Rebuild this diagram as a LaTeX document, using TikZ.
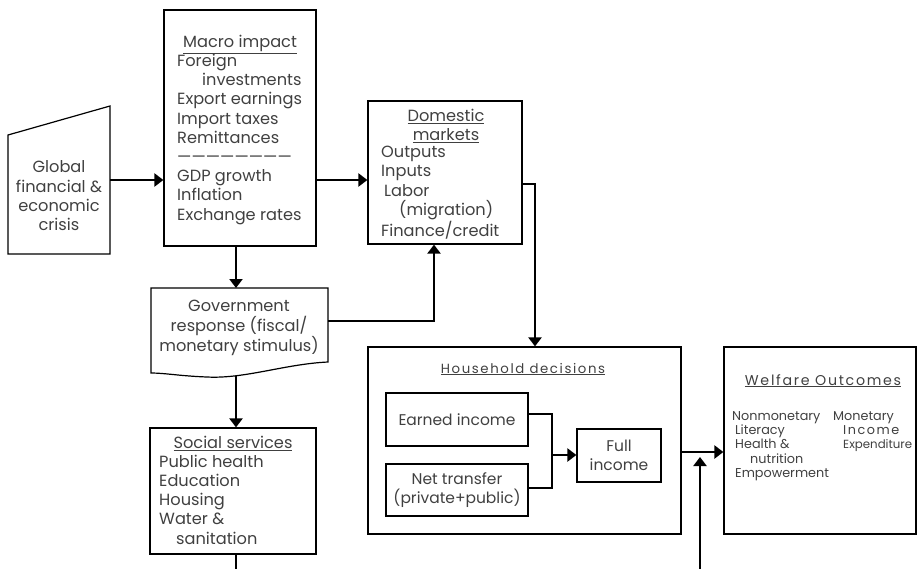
\documentclass[tikz,border=0pt]{standalone}
\usepackage{fontspec}
\setmainfont{Poppins}
\newfontfamily\widefont[LetterSpace=12]{Poppins}
\usetikzlibrary{arrows.meta}
\begin{document}
\begin{tikzpicture}[x=1pt,y=-1pt,
  box/.style={draw=black, line width=1.2pt, inner sep=0pt},
  arr/.style={line width=2.3pt, -{Triangle[length=9pt,width=13pt]}},
  ln/.style={line width=2.3pt},
  txt/.style={text=black!75, inner sep=0pt, font=\fontsize{16.2}{19.2}\selectfont},
  txtl/.style={txt, align=left, anchor=base west},
  txtc/.style={txt, align=center, anchor=base},
  small/.style={text=black!75, inner sep=0pt, font=\fontsize{12.8}{14.3}\selectfont},
  inbox/.style={box, text=black!75, align=center, font=\fontsize{15.5}{19}\selectfont},
]
\useasboundingbox (0,0) rectangle (918,568);

% global crisis shape
\draw[box] (8,135) -- (110,106) -- (110,254) -- (8,254) -- cycle;
\coordinate (gr) at (110,180);
\node[txtc] (gtxt) at (59,230.5) {Global\\financial \&\\economic\\crisis};

% macro impact
\node[box, minimum width=152pt, minimum height=236pt] (macro) at (240,128) {};
\node[txtl] (mtxt) at (177,220) {\hspace*{6pt}\underline{Macro impact}\\
Foreign\\
\hspace*{25pt}investments\\
Export earnings\\
Import taxes\\
Remittances\\
————————\\
GDP growth\\
Inflation\\
Exchange rates};

% domestic markets
\node[box, minimum width=154pt, minimum height=143pt] (dom) at (445,172.5) {};
\node[txtc] (domt) at (446,140.5) {\underline{Domestic}\\\underline{markets}};
\node[txtl] (doml) at (381,236) {Outputs\\Inputs\\\hspace*{3pt}Labor\\\hspace*{18pt}(migration)\\Finance/credit};

% government response
\draw[box] (151,288) -- (328,288) -- (328,362)
  .. controls (285,364) and (245,379) .. (207,377)
  .. controls (180,376) and (165,373) .. (151,373) -- cycle;
\coordinate (govtop) at (236,288);
\coordinate (govbot) at (236,376);
\coordinate (govright) at (328,321);
\node[txtc] (govt) at (239,351.5) {Government\\response (fiscal/\\monetary stimulus)};

% social services
\node[box, minimum width=166pt, minimum height=126pt] (soc) at (233,491) {};
\node[txtc] (soct) at (233,448.3) {\underline{Social services}};
\node[txtl] (socl) at (159,544) {Public health\\Education\\Housing\\Water \&\\\hspace*{17pt}sanitation};
\coordinate (socend) at (236,570);

% household decisions
\node[box, minimum width=313pt, minimum height=187pt] (hh) at (524.5,440.5) {};
\node[small, anchor=base, font=\widefont\fontsize{13.3}{15}\selectfont] (hht) at (523,373) {\underline{Household decisions}};
\node[inbox, minimum width=142pt, minimum height=53pt] (earned) at (457,419.5) {Earned income};
\node[inbox, minimum width=142pt, minimum height=52pt] (net) at (457,490) {Net transfer\\(private+public)};
\node[inbox, minimum width=84pt, minimum height=53pt] (full) at (619,455.5) {Full\\income};
\coordinate (j) at (552,455);

% welfare outcomes
\node[box, minimum width=192pt, minimum height=187pt] (wel) at (820,440.5) {};
\node[small, anchor=base, font=\widefont\fontsize{14.2}{15}\selectfont] (welt) at (823,385) {\underline{Welfare Outcomes}};
\node[small, align=left, anchor=base west] (wl) at (732,477.3) {Nonmonetary\\\hspace*{3pt}Literacy\\\hspace*{3pt}Health \&\\\hspace*{18pt}nutrition\\\hspace*{3pt}Empowerment};
\node[small, align=left, anchor=base west] (wr) at (833,448.6) {Monetary\\\hspace*{10pt}{\widefont Income}\\\hspace*{10pt}{\fontsize{11.8}{14.3}\selectfont Expenditure}};
\coordinate (vb) at (700,570);
\coordinate (vt) at (700,457);

% connectors
\draw[arr] (gr) -- (gr -| macro.west);
\draw[arr] (macro.east |- gr) -- (dom.west |- gr);
\draw[arr] (govtop |- macro.south) -- (govtop);
\draw[arr] (govright) -| ([xshift=-11pt]dom.south);
\draw[arr] (govbot) -- (govbot |- soc.north);
\draw[ln] (govbot |- soc.south) -- (socend);
\draw[arr] ([yshift=-11.5pt]dom.east) -| ([xshift=10.5pt]hh.north);
\draw[ln] ([yshift=5.5pt]earned.east) -| (j) |- ([yshift=2pt]net.east);
\draw[arr] (j) -- (j -| full.west);
\draw[arr] ([yshift=-11.5pt]hh.east) -- ([yshift=-11.5pt]wel.west);
\draw[arr] (vb) -- (vt);
\end{tikzpicture}
\end{document}
